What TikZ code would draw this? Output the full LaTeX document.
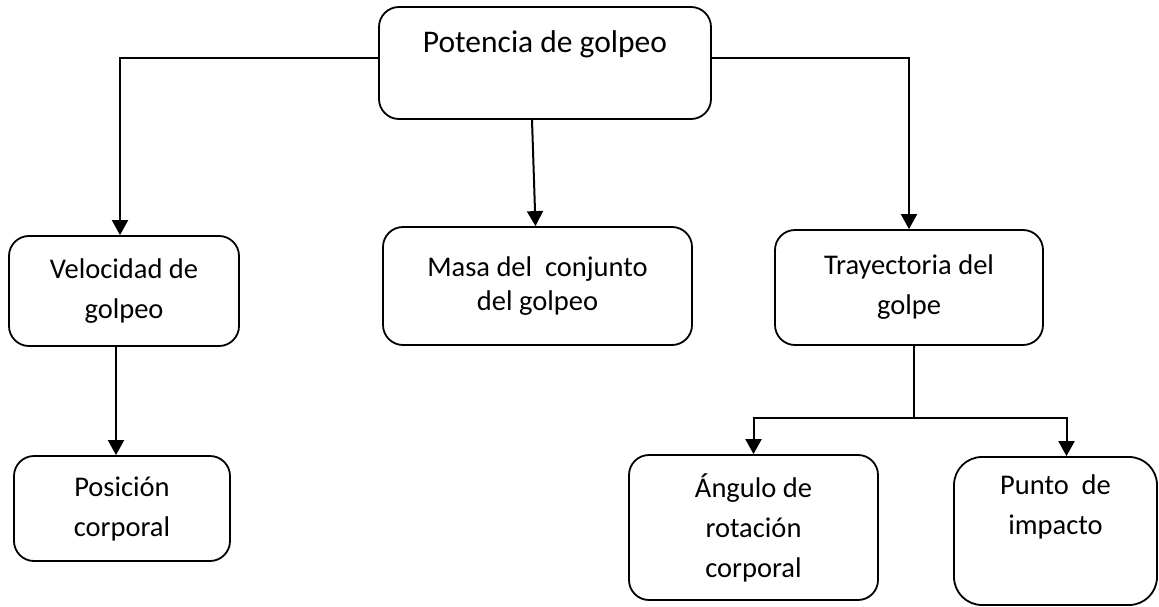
\documentclass[tikz,border=0pt]{standalone}
\usepackage{fontspec}
\setmainfont{Carlito}
\usetikzlibrary{arrows.meta}

\begin{document}
\begin{tikzpicture}[x=1pt, y=-1pt, line width=2pt, >={Triangle[width=16pt,length=15pt]},
  every node/.style = {shape=rectangle, rounded corners=20pt, draw, line width=1.8pt, align=center, font=\fontsize{28.5}{40}\selectfont}]
  \useasboundingbox (0,0) rectangle (1159,607);
  \node[minimum width=332pt, minimum height=112pt, text height=22pt, text depth=42pt, font=\fontsize{31.5}{40}\selectfont] (top) at (545,63) {Potencia de golpeo};
  \node[minimum width=230pt, minimum height=110pt] (vel) at (124,291) {Velocidad de\\golpeo};
  \node[minimum width=309pt, minimum height=118pt, font=\fontsize{28.5}{34}\selectfont, yshift=-4pt] (masa) at (537.5,282) {Masa del \ conjunto\\del golpeo};
  \node[minimum width=268pt, minimum height=115pt] (tray) at (909,287.5) {Trayectoria del\\golpe};
  \node[minimum width=216pt, minimum height=105pt] (pos) at (122,508.5) {Posición\\corporal};
  \node[minimum width=249pt, minimum height=145pt] (ang) at (753.5,527.5) {Ángulo de\\rotación\\corporal};
  \node[minimum width=203pt, minimum height=148pt, rounded corners=28pt] (punto) at (1055.5,531) {Punto \ de\\impacto\\ \strut};
  \coordinate (fork) at (914,418);
  % conectores
  \draw[->] ([yshift=5pt]top.west) -| ([xshift=-4pt]vel.north);
  \draw[->] ([yshift=5pt]top.east) -| (tray.north);
  \draw[->] ([xshift=-13pt]top.south) -- ([xshift=-2pt]masa.north);
  \draw[->] ([xshift=-8pt]vel.south) -- ([xshift=-6pt]pos.north);
  \draw ([xshift=5pt]tray.south) -- (fork);
  \draw[->] (fork) -| (ang.north);
  \draw[->] (fork) -| ([xshift=11pt]punto.north);
\end{tikzpicture}
\end{document}
